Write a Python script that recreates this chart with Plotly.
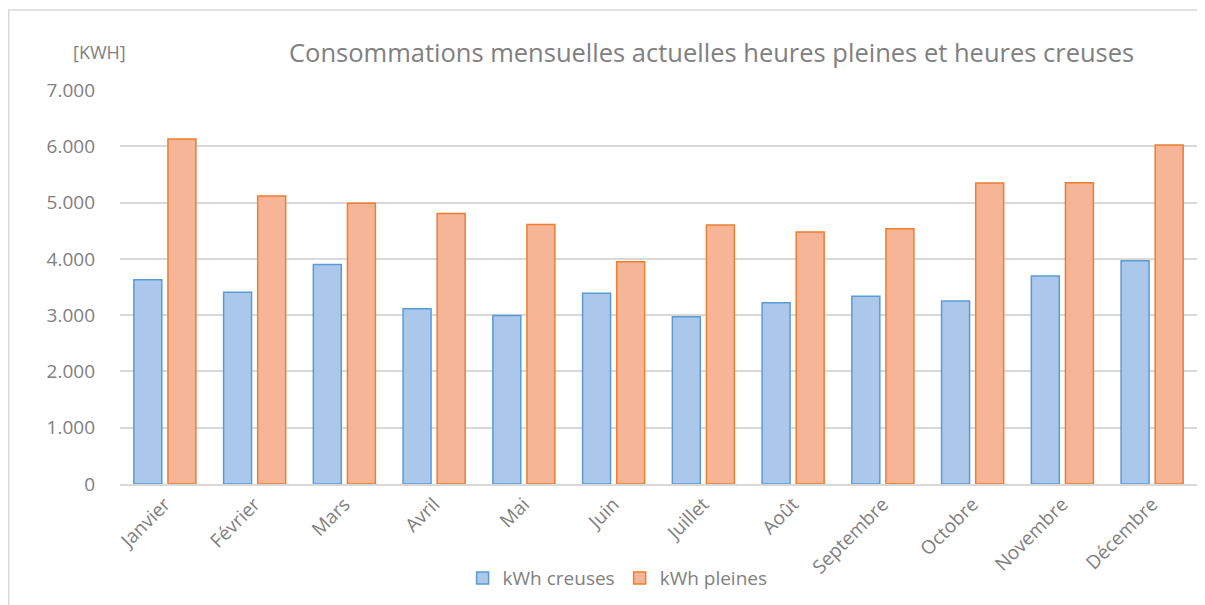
import plotly.graph_objects as go

mois = ["Janvier", "Février", "Mars", "Avril", "Mai", "Juin", "Juillet",
        "Août", "Septembre", "Octobre", "Novembre", "Décembre"]
kwh_creuses = [3630, 3405, 3900, 3115, 2995, 3390, 2972, 3220, 3334, 3250, 3695, 3966]
kwh_pleines = [6130, 5115, 4990, 4808, 4612, 3950, 4600, 4476, 4535, 5346, 5352, 6021]
y_ticks = [0, 1000, 2000, 3000, 4000, 5000, 6000, 7000]

gris = "#808080"
police = "Open Sans"

fig = go.Figure()
fig.add_trace(go.Bar(
    x=mois, y=kwh_creuses, name="kWh creuses",
    marker=dict(color="#abc7ea", line=dict(color="#5b9bd5", width=1.5)),
))
fig.add_trace(go.Bar(
    x=mois, y=kwh_pleines, name="kWh pleines",
    marker=dict(color="#f6b596", line=dict(color="#ed7d31", width=1.5)),
))

# la page a une marge de 8px : on décale tout de -8px
fig.update_layout(
    width=1205, height=605,
    margin=dict(l=112, r=16, t=82, b=129),
    paper_bgcolor="white", plot_bgcolor="white",
    separators=",.",
    barmode="group", bargap=0.24, bargroupgap=0.18,
    font=dict(family=police, color=gris, size=16),
    showlegend=True,
    legend=dict(orientation="h", x=0.462, xanchor="center", y=-0.239, yanchor="middle",
                font=dict(size=19, color=gris), itemwidth=30, traceorder="normal"),
    shapes=[dict(type="rect", xref="paper", yref="paper",
                 x0=-0.1033, x1=1.05, y0=-0.5, y1=1.203,
                 line=dict(color="#d9d9d9", width=1.5), layer="below")],
    annotations=[
        dict(text="Consommations mensuelles actuelles heures pleines et heures creuses",
             xref="paper", yref="paper", x=0.549, y=1.096, xanchor="center", yanchor="middle",
             showarrow=False, font=dict(size=25.5, color=gris, family=police)),
        dict(text="[KWH]", xref="paper", yref="paper", x=0.0074, y=1.096,
             xanchor="right", yanchor="middle", showarrow=False,
             font=dict(size=18, color=gris, family=police)),
    ],
)
fig.update_xaxes(tickangle=-45, showline=True, linecolor="#d9d9d9", linewidth=1.5,
                 ticks="", tickfont=dict(size=19, color=gris))
fig.update_yaxes(range=[0, 7000], tickvals=y_ticks, tickformat=",d",
                 showgrid=True, gridcolor="#d9d9d9", gridwidth=1.5,
                 zeroline=False, showline=False, ticklabelstandoff=24,
                 tickfont=dict(size=19, color=gris))

fig.write_html("out.html")
